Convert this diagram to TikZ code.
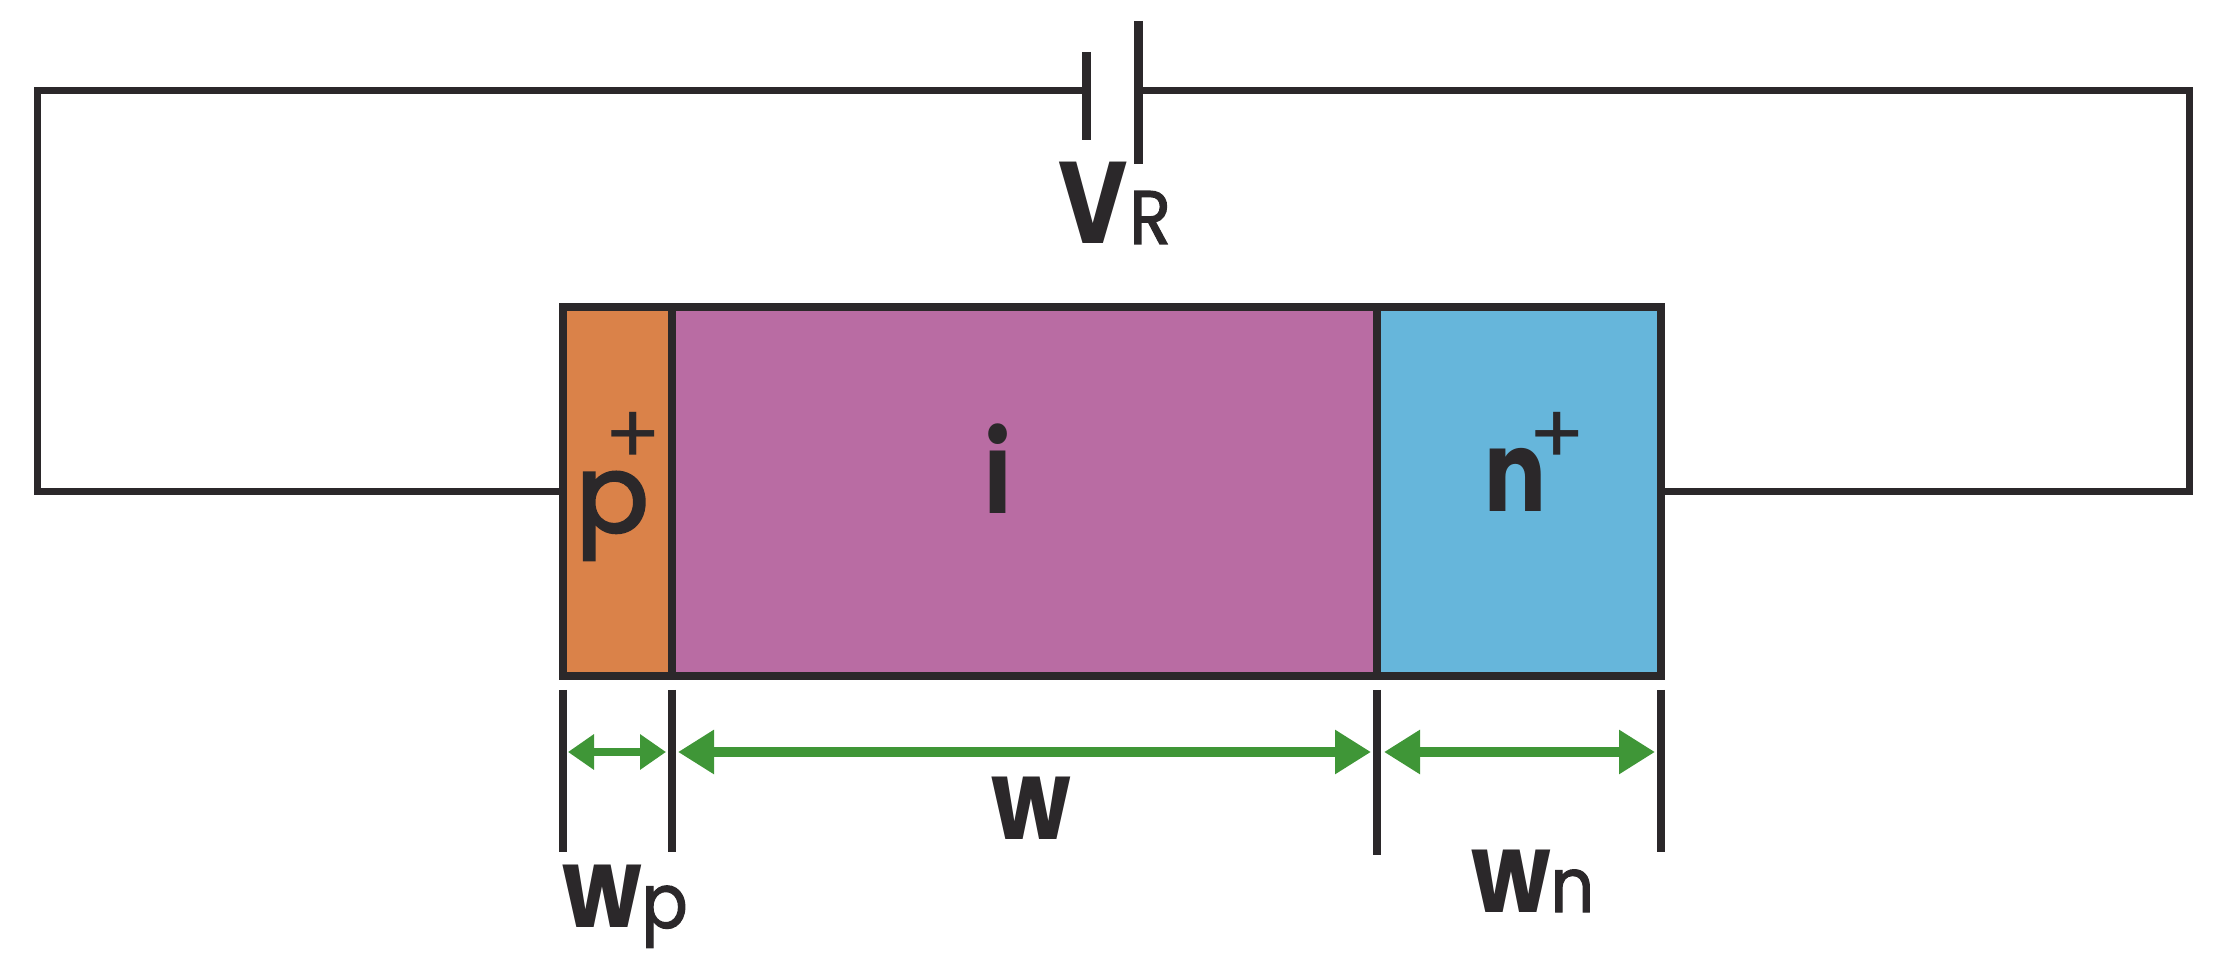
\documentclass[tikz,border=0pt]{standalone}
\usepackage{fontspec}
\setmainfont{Poppins}
\newfontfamily\heavyf[BoldFeatures={FakeStretch=0.82}]{Poppins}
\newfontfamily\roundf[FakeBold=2.5]{Poppins}
\newfontfamily\semif[FakeBold=1.5,FakeStretch=0.9]{Poppins}
\usetikzlibrary{arrows.meta}
\definecolor{wirec}{HTML}{2B282A}
\definecolor{orangec}{HTML}{DA8249}
\definecolor{magentac}{HTML}{B96CA3}
\definecolor{bluec}{HTML}{66B6DB}
\definecolor{greenc}{HTML}{3F9637}
\newcommand{\fsz}[1]{\fontsize{#1}{#1}\selectfont}
\tikzset{
  px/.style={x=0.5pt,y=-0.5pt},
  wire/.style={draw=wirec,line width=3.5pt},
  plate/.style={draw=wirec,line width=4.5pt},
  tick/.style={draw=wirec,line width=3.6pt},
  region/.style={draw=wirec,line width=4pt,inner sep=0pt,outer sep=0pt,anchor=north west,minimum height=184.5pt},
  dimbig/.style={draw=greenc,line width=5.2pt,{Triangle[length=18pt,width=21pt]}-{Triangle[length=18pt,width=21pt]}},
  dimsmall/.style={draw=greenc,line width=4.2pt,{Triangle[length=13pt,width=17pt]}-{Triangle[length=13pt,width=17pt]}},
  lab/.style={inner sep=0pt,outer sep=0pt,text=wirec,font=\heavyf\bfseries},
  plusmark/.style={inner sep=0pt,outer sep=0pt,text=wirec,font=\rmfamily},
}
\begin{document}
\begin{tikzpicture}[px]
\useasboundingbox (0,0) rectangle (2217,961);
% regions
\node[region,fill=orangec,minimum width=54.5pt] (pbox) at (563,307) {};
\node[region,fill=magentac,minimum width=352.5pt] (ibox) at (672,307) {};
\node[region,fill=bluec,minimum width=142pt] (nbox) at (1377,307) {};
% circuit
\coordinate (bl) at (37,492);
\coordinate (tl) at (37,91);
\coordinate (br) at (2189,492);
\coordinate (tr) at (2189,91);
\coordinate (c1t) at (1086,52);
\coordinate (c1b) at (1086,140);
\coordinate (c2t) at (1138,21);
\coordinate (c2b) at (1138,164);
\coordinate (c1) at (1086,91);
\coordinate (c2) at (1138,91);
\draw[wire,line join=miter] (pbox.west |- bl) -- (bl) -- (tl) -- (c1);
\draw[wire,line join=miter] (nbox.east |- br) -- (br) -- (tr) -- (c2);
\draw[plate] (c1t) -- (c1b);
\draw[plate] (c2t) -- (c2b);
% ticks
\coordinate (t1a) at (563,690); \coordinate (t1b) at (563,852);
\coordinate (t2a) at (672,690); \coordinate (t2b) at (672,852);
\coordinate (t3a) at (1377,690); \coordinate (t3b) at (1377,855);
\coordinate (t4a) at (1661,690); \coordinate (t4b) at (1661,852);
\draw[tick] (t1a) -- (t1b);
\draw[tick] (t2a) -- (t2b);
\draw[tick] (t3a) -- (t3b);
\draw[tick] (t4a) -- (t4b);
% dimension arrows
\coordinate (a1l) at (568,752); \coordinate (a1r) at (666,752);
\coordinate (a2l) at (678,752); \coordinate (a2r) at (1371,752);
\coordinate (a3l) at (1384,752); \coordinate (a3r) at (1655,752);
\draw[dimsmall] (a1l) -- (a1r);
\draw[dimbig] (a2l) -- (a2r);
\draw[dimbig] (a3l) -- (a3r);
% labels
\node[lab,anchor=base west] (vr) at (1058,244) {\fsz{58}V\kern1pt{\semif\mdseries\fsz{38}R}};
\node[lab,anchor=base] (wlab) at (1031,840) {\fsz{56}w};
\node[lab,anchor=base west] (wplab) at (562,928) {\fsz{56}w{\semif\mdseries\fsz{38}p}};
\node[lab,anchor=base west] (wnlab) at (1471,912) {\fsz{56}w{\semif\mdseries\fsz{38}n}};
\node[lab,anchor=base west,font=\roundf] (plab) at (576,532) {\fsz{54}p};
\node[plusmark] (pplus) at (633,438) {\fsz{42}+};
\node[lab,anchor=base] (ilab) at (998,514) {\fsz{56}i};
\node[lab,anchor=base west] (nlab) at (1484,512) {\fsz{56}n};
\node[plusmark] (nplus) at (1557,438) {\fsz{42}+};
\end{tikzpicture}
\end{document}
